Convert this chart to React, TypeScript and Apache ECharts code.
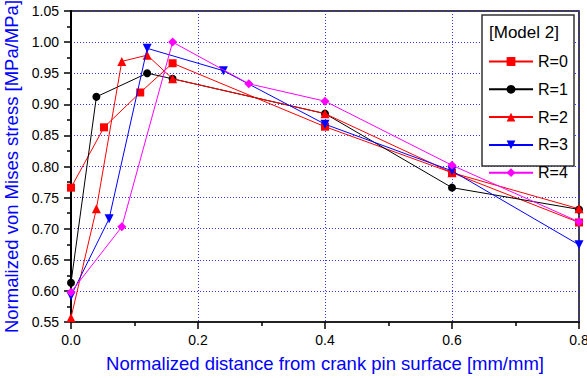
import React, { useEffect, useRef } from "react";
import * as echarts from "echarts";

const seriesNames = ["R=0", "R=1", "R=2", "R=3", "R=4"];
const xR0 = [0, 0.052, 0.109, 0.16, 0.4, 0.6, 0.8];
const yR0 = [0.766, 0.863, 0.919, 0.966, 0.864, 0.79, 0.71];
const xR1 = [0, 0.04, 0.12, 0.16, 0.4, 0.6, 0.8];
const yR1 = [0.613, 0.912, 0.95, 0.941, 0.885, 0.766, 0.731];
const xR2 = [0, 0.04, 0.08, 0.12, 0.16, 0.4, 0.6, 0.8];
const yR2 = [0.557, 0.732, 0.969, 0.979, 0.941, 0.885, 0.79, 0.732];
const xR3 = [0, 0.06, 0.12, 0.24, 0.4, 0.6, 0.8];
const yR3 = [0.592, 0.716, 0.99, 0.954, 0.868, 0.793, 0.674];
const xR4 = [0, 0.08, 0.16, 0.28, 0.4, 0.6, 0.8];
const yR4 = [0.598, 0.703, 1.0, 0.933, 0.905, 0.802, 0.711];

const colors = ["#ff0000", "#000000", "#ff0000", "#0000ff", "#ff00ff"];
const symbols = ["rect", "circle", "triangle", "path://M0,0 L10,0 L5,10 Z", "diamond"];
const symbolSizes = [8, 8, 9, 9, 9];

const FONT = "Arial, 'Liberation Sans', sans-serif";

export default function App() {
  const ref = useRef<HTMLDivElement>(null);
  useEffect(() => {
    document.body.style.margin = "0";
    if (!ref.current) return;
    const chart = echarts.init(ref.current, null, { renderer: "svg" });
    const xs = [xR0, xR1, xR2, xR3, xR4];
    const ys = [yR0, yR1, yR2, yR3, yR4];
    const series = seriesNames.map((name, i) => ({
      name,
      type: "line",
      data: xs[i].map((x, j) => [x, ys[i][j]]),
      symbol: symbols[i],
      symbolSize: symbolSizes[i],
      showAllSymbol: true,
      lineStyle: { color: colors[i], width: 1 },
      itemStyle: { color: colors[i] },
      z: 2 + i,
    }));
    chart.setOption({
      animation: false,
      backgroundColor: "#ffffff",
      grid: {
        left: 71,
        right: 8,
        top: 11,
        bottom: 56,
        show: true,
        borderColor: "#000",
        borderWidth: 1.5,
        containLabel: false,
        outerBoundsMode: "none",
      },
      xAxis: {
        type: "value",
        min: 0,
        max: 0.8,
        interval: 0.2,
        name: "Normalized distance from crank pin surface [mm/mm]",
        nameLocation: "middle",
        nameGap: 32,
        nameTextStyle: { color: "#0000ff", fontSize: 18.5, fontFamily: FONT },
        axisLine: { lineStyle: { color: "#222", width: 2 } },
        axisTick: { show: true, inside: false, length: 7, lineStyle: { color: "#000", width: 1.5 } },
        minorTick: { show: true, splitNumber: 2, length: 4, lineStyle: { color: "#000", width: 1.5 } },
        axisLabel: {
          color: "#000",
          fontSize: 14,
          fontFamily: FONT,
          margin: 11,
          formatter: (v: number) => v.toFixed(1),
        },
        splitLine: { show: true, lineStyle: { color: "#3333ff", type: [1, 2], width: 1 } },
      },
      yAxis: {
        type: "value",
        min: 0.55,
        max: 1.05,
        interval: 0.05,
        name: "Normalized von Mises stress [MPa/MPa]",
        nameLocation: "middle",
        nameGap: 46,
        nameTextStyle: { color: "#0000ff", fontSize: 18.5, fontFamily: FONT },
        axisLine: { show: true, lineStyle: { color: "#000", width: 2 } },
        axisTick: { show: true, inside: false, length: 7, lineStyle: { color: "#000", width: 1.5 } },
        minorTick: { show: true, splitNumber: 2, length: 4, lineStyle: { color: "#000", width: 1.5 } },
        axisLabel: {
          color: "#000",
          fontSize: 14,
          fontFamily: FONT,
          margin: 12,
          formatter: (v: number) => v.toFixed(2),
        },
        splitLine: { show: true, lineStyle: { color: "#3333ff", type: [1, 2], width: 1 } },
      },
      legend: {
        orient: "vertical",
        left: 488,
        top: 53.5,
        itemWidth: 44,
        itemHeight: 11,
        itemGap: 11.8,
        padding: 0,
        z: 120,
        textStyle: { color: "#000", fontSize: 16, fontFamily: FONT },
        data: seriesNames,
      },
      graphic: [
        {
          type: "rect",
          z: 100,
          shape: { x: 482, y: 15, width: 92, height: 151 },
          style: { fill: "#fff", stroke: "#333", lineWidth: 1.5 },
        },
        {
          type: "text",
          z: 101,
          x: 489,
          y: 24,
          style: { text: "[Model 2]", fill: "#000", fontSize: 17, fontFamily: FONT },
        },
      ],
      series,
    });
    return () => chart.dispose();
  }, []);
  return <div ref={ref} style={{ width: 587, height: 378 }} />;
}
